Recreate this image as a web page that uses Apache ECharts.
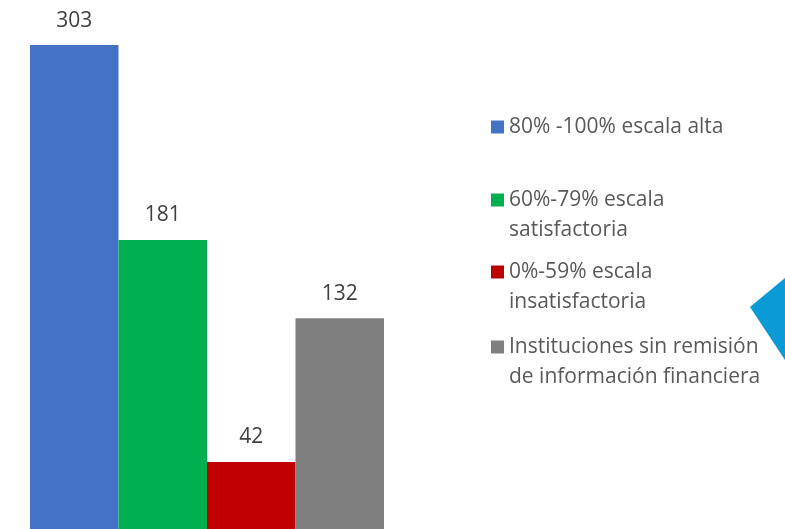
<!DOCTYPE html>
<html>
<head>
<meta charset="utf-8">
<script src="https://cdn.jsdelivr.net/npm/echarts@6/dist/echarts.min.js"></script>
<style>
  html, body { margin: 0; padding: 0; background: #fff; }
  #main { width: 785px; height: 529px; }
</style>
</head>
<body>
<div id="main"></div>
<script>
// data
const seriesNames = [
  '80% -100% escala alta',
  '60%-79% escala\nsatisfactoria',
  '0%-59% escala\ninsatisfactoria',
  'Instituciones sin remisión\nde información financiera'
];
const seriesValues = [303, 181, 42, 132];
const seriesColors = ['#4472C4', '#00B050', '#C00000', '#7F7F7F'];
const legendCenters = [127, 200, 272, 347]; // y of each legend square

const FONT = '"Open Sans", Lato, sans-serif';
const LINE = 30;

const chart = echarts.init(document.getElementById('main'));

const series = seriesNames.map((name, i) => ({
  name: name,
  type: 'bar',
  data: [seriesValues[i]],
  barGap: '0%',
  barCategoryGap: '0%',
  itemStyle: { color: seriesColors[i] },
  label: {
    show: true,
    position: 'top',
    distance: 14,
    color: '#404040',
    fontSize: 21,
    fontFamily: FONT
  }
}));

// one legend per entry so the spacing can follow the original.
// an empty first line keeps the square level with the first text line
const legends = seriesNames.map((name, i) => {
  const twoLines = name.indexOf('\n') >= 0;
  return {
    orient: 'vertical',
    left: 491,
    top: twoLines ? legendCenters[i] - 1.5 * LINE : legendCenters[i] - LINE / 2,
    padding: 0,
    itemWidth: 13,
    itemHeight: 13,
    icon: 'rect',
    selectedMode: false,
    data: [name],
    formatter: n => (n.indexOf('\n') >= 0 ? ' \n' + n : n),
    textStyle: {
      color: '#595959',
      fontSize: 21,
      fontFamily: FONT,
      lineHeight: LINE
    }
  };
});

chart.setOption({
  animation: false,
  backgroundColor: '#ffffff',
  // zero line sits just below the bottom edge, as in the original
  grid: { left: 30, width: 354, top: 2, height: 531 },
  xAxis: {
    type: 'category',
    data: [''],
    show: false
  },
  yAxis: {
    type: 'value',
    min: 0,
    max: 330,
    show: false
  },
  legend: legends,
  graphic: [
    {
      type: 'polygon',
      shape: { points: [[750, 307], [785, 278], [785, 360]] },
      style: { fill: '#0A9BD7' },
      silent: true
    }
  ],
  series: series
});
</script>
</body>
</html>
